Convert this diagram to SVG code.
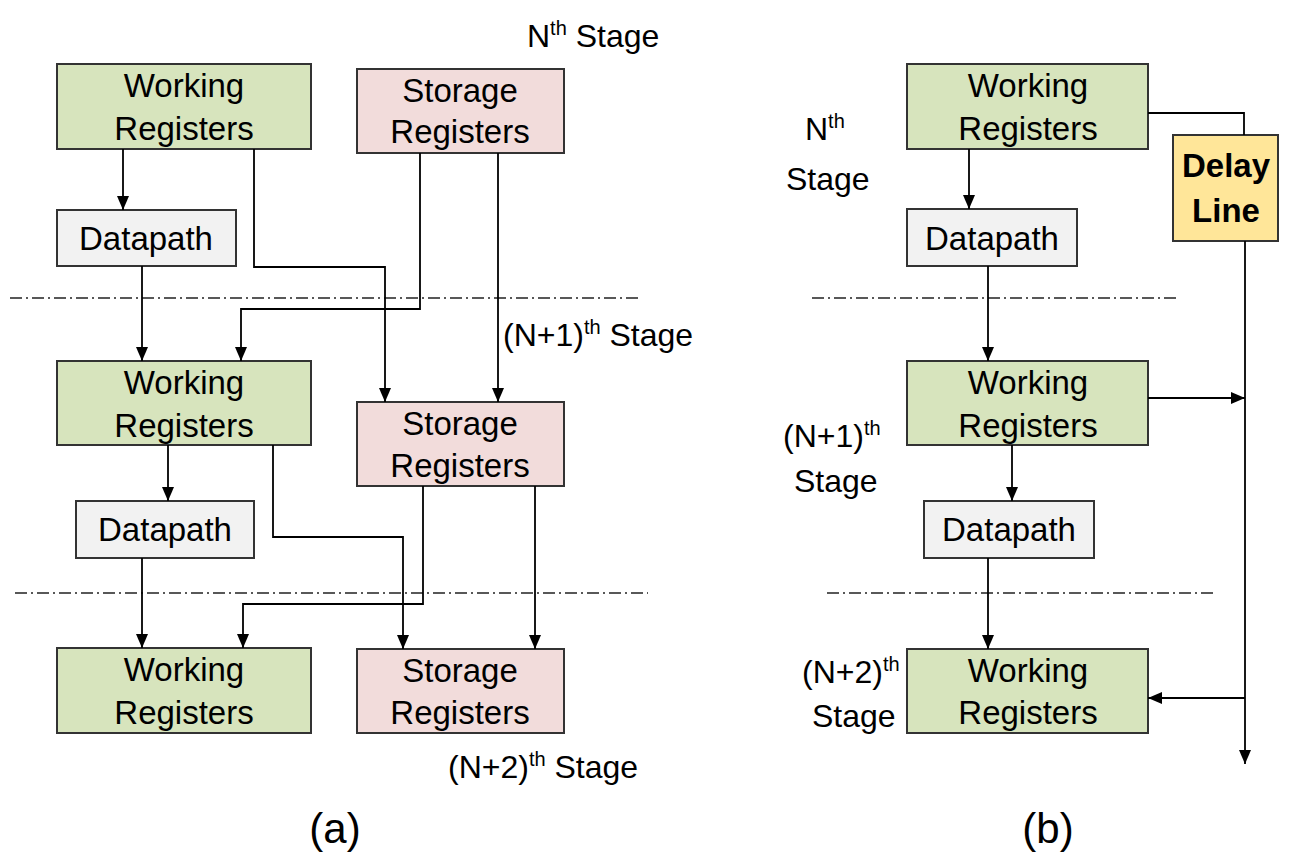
<svg xmlns="http://www.w3.org/2000/svg" width="1314" height="860" viewBox="0 0 1314 860">
<style>
text{font-family:"Liberation Sans",Arial,sans-serif;fill:#000}
.lbl{font-size:33px;text-anchor:middle}
.st{font-size:32px}
.sup{font-size:20px}
.work{fill:#D7E4BD;stroke:#333;stroke-width:2}
.stor{fill:#F2DCDB;stroke:#333;stroke-width:2}
.dp{fill:#F2F2F2;stroke:#333;stroke-width:2}
.dl{fill:#FFE699;stroke:#333;stroke-width:2}
.c{fill:none;stroke:#000;stroke-width:1.8}
.dash{fill:none;stroke:#222;stroke-width:1.3;stroke-dasharray:12 4 2 4}
</style>
<defs>
<marker id="ah" markerUnits="userSpaceOnUse" markerWidth="15" markerHeight="12" refX="14" refY="6" orient="auto">
<path d="M0,0 L14,6 L0,12 z" fill="#000"/>
</marker>
</defs>
<rect width="1314" height="860" fill="#fff"/>

<!-- Panel (a) nodes -->
<g id="a-wr1"><rect class="work" x="57" y="64" width="254" height="85"/><text class="lbl" x="184" y="97">Working</text><text class="lbl" x="184" y="140">Registers</text></g>
<g id="a-sr1"><rect class="stor" x="357" y="69" width="207" height="84"/><text class="lbl" x="460" y="102">Storage</text><text class="lbl" x="460" y="143">Registers</text></g>
<g id="a-dp1"><rect class="dp" x="57" y="210" width="179" height="56"/><text class="lbl" x="146" y="250">Datapath</text></g>
<g id="a-wr2"><rect class="work" x="57" y="361" width="254" height="84"/><text class="lbl" x="184" y="394">Working</text><text class="lbl" x="184" y="437">Registers</text></g>
<g id="a-sr2"><rect class="stor" x="357" y="402" width="207" height="84"/><text class="lbl" x="460" y="435">Storage</text><text class="lbl" x="460" y="477">Registers</text></g>
<g id="a-dp2"><rect class="dp" x="76" y="501" width="178" height="57"/><text class="lbl" x="165" y="541">Datapath</text></g>
<g id="a-wr3"><rect class="work" x="57" y="648" width="254" height="85"/><text class="lbl" x="184" y="681">Working</text><text class="lbl" x="184" y="724">Registers</text></g>
<g id="a-sr3"><rect class="stor" x="357" y="649" width="207" height="84"/><text class="lbl" x="460" y="682">Storage</text><text class="lbl" x="460" y="724">Registers</text></g>

<!-- Panel (b) nodes -->
<g id="b-wr1"><rect class="work" x="907" y="64" width="241" height="85"/><text class="lbl" x="1028" y="97">Working</text><text class="lbl" x="1028" y="140">Registers</text></g>
<g id="b-dl"><rect class="dl" x="1173" y="135" width="105" height="106"/><text class="lbl" x="1226" y="177" font-weight="bold" font-size="30">Delay</text><text class="lbl" x="1226" y="222" font-weight="bold" font-size="30">Line</text></g>
<g id="b-dp1"><rect class="dp" x="907" y="209" width="170" height="57"/><text class="lbl" x="992" y="250">Datapath</text></g>
<g id="b-wr2"><rect class="work" x="907" y="361" width="241" height="84"/><text class="lbl" x="1028" y="394">Working</text><text class="lbl" x="1028" y="437">Registers</text></g>
<g id="b-dp2"><rect class="dp" x="924" y="501" width="170" height="57"/><text class="lbl" x="1009" y="541">Datapath</text></g>
<g id="b-wr3"><rect class="work" x="907" y="649" width="241" height="84"/><text class="lbl" x="1028" y="682">Working</text><text class="lbl" x="1028" y="724">Registers</text></g>

<!-- Stage separators -->
<g id="separators">
<line class="dash" x1="10" y1="298" x2="642" y2="298"/>
<line class="dash" x1="15" y1="593" x2="648" y2="593"/>
<line class="dash" x1="812" y1="298" x2="1177" y2="298"/>
<line class="dash" x1="827" y1="593" x2="1214" y2="593"/>
</g>

<!-- Connectors -->
<g id="connectors">
<path class="c" d="M123,149 V210" marker-end="url(#ah)"/>
<path class="c" d="M142,266 V361" marker-end="url(#ah)"/>
<path class="c" d="M254,149 V267 H385 V402" marker-end="url(#ah)"/>
<path class="c" d="M420,153 V309 H241 V361" marker-end="url(#ah)"/>
<path class="c" d="M498,153 V402" marker-end="url(#ah)"/>
<path class="c" d="M168,445 V501" marker-end="url(#ah)"/>
<path class="c" d="M142,558 V648" marker-end="url(#ah)"/>
<path class="c" d="M273,445 V537 H403 V649" marker-end="url(#ah)"/>
<path class="c" d="M423,486 V604 H243 V648" marker-end="url(#ah)"/>
<path class="c" d="M535,486 V649" marker-end="url(#ah)"/>

<path class="c" d="M969,149 V209" marker-end="url(#ah)"/>
<path class="c" d="M988,266 V361" marker-end="url(#ah)"/>
<path class="c" d="M1012,445 V501" marker-end="url(#ah)"/>
<path class="c" d="M988,558 V649" marker-end="url(#ah)"/>
<path class="c" d="M1148,113 H1244 V135"/>
<path class="c" d="M1245,241 V764" marker-end="url(#ah)"/>
<path class="c" d="M1148,398 H1245" marker-end="url(#ah)"/>
<path class="c" d="M1245,698 H1148" marker-end="url(#ah)"/>
</g>

<!-- Stage labels -->
<g id="labels">
<text class="st" x="527" y="47">N<tspan class="sup" dy="-12">th</tspan><tspan dy="12"> Stage</tspan></text>
<text class="st" x="503" y="346">(N+1)<tspan class="sup" dy="-12">th</tspan><tspan dy="12"> Stage</tspan></text>
<text class="st" x="448" y="778">(N+2)<tspan class="sup" dy="-12">th</tspan><tspan dy="12"> Stage</tspan></text>
<text class="st" x="805" y="140">N<tspan class="sup" dy="-12">th</tspan></text>
<text class="st" x="786" y="190">Stage</text>
<text class="st" x="783" y="447">(N+1)<tspan class="sup" dy="-12">th</tspan></text>
<text class="st" x="794" y="492">Stage</text>
<text class="st" x="802" y="683">(N+2)<tspan class="sup" dy="-12">th</tspan></text>
<text class="st" x="812" y="727">Stage</text>
<text x="335" y="843" font-size="42" text-anchor="middle">(a)</text>
<text x="1048" y="843" font-size="42" text-anchor="middle">(b)</text>
</g>
</svg>
